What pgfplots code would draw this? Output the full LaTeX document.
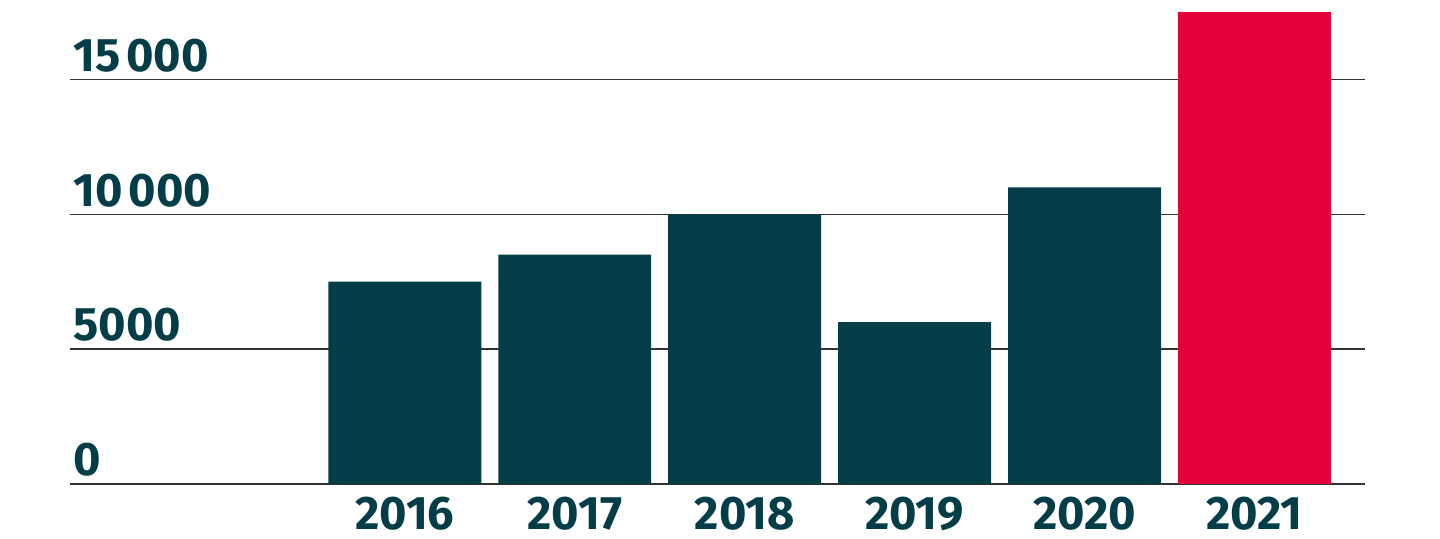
\documentclass[border=0pt]{standalone}
\usepackage{pgfplots}
\pgfplotsset{compat=1.18}
\usepackage{fontspec}
\setmainfont{Fira Sans}[Numbers=Proportional]
\definecolor{teal}{HTML}{033D48}
\definecolor{brandred}{HTML}{E4003A}
\newcommand{\ts}{\hspace{0.13em}}
\begin{document}
\begin{tikzpicture}
\useasboundingbox (0,0) rectangle (720pt,269.5pt);
\begin{axis}[
  at={(35pt,27.5pt)}, anchor=south west,
  scale only axis,
  width=647.5pt, height=236pt,
  xmin=-1.97, xmax=5.65,
  ymin=0, ymax=17500,
  axis line style={draw=none},
  major tick length=0pt,
  ymajorgrids,
  grid style={color=black!80, line width=0.75pt},
  ytick={0,5000,10000,15000},
  yticklabels={0,5000,10\ts000,15\ts000},
  xtick={0,1,2,3,4,5},
  xticklabels={2016,2017,2018,2019,2020,2021},
  tick label style={font=\fontsize{23.5}{24}\selectfont\bfseries, text=teal},
  yticklabel style={anchor=south west, inner sep=0pt, xshift=1.5pt, yshift=3.5pt},
  xticklabel style={anchor=north, inner sep=0pt, yshift=-6.5pt},
  /pgf/number format/assume math mode=true,
  clip=false,
]
\addplot[ybar, bar width=0.9, fill=teal, draw=none] coordinates {
  (0,7500) (1,8500) (2,10000) (3,6000) (4,11000)
};
\addplot[ybar, bar width=0.9, fill=brandred, draw=none] coordinates {
  (5,17500)
};
\end{axis}
\end{tikzpicture}
\end{document}
